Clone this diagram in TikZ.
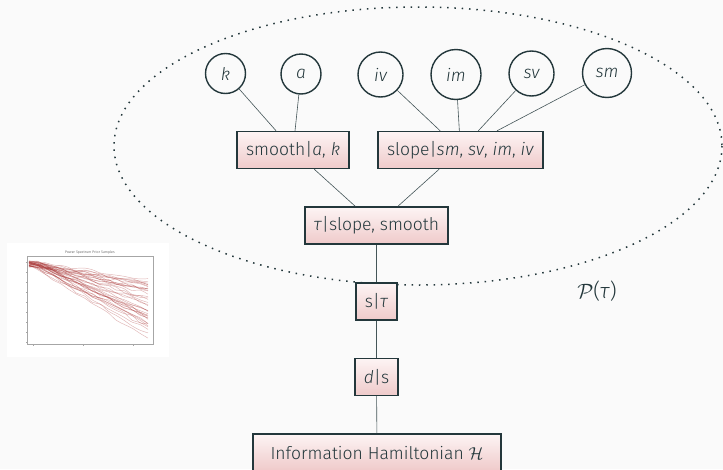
\documentclass[tikz,border=0pt]{standalone}
\usepackage{fontspec}
\setmainfont{Fira Sans}[UprightFont=* Light, ItalicFont=* Light Italic]
\definecolor{mdt}{HTML}{23373B}
\definecolor{bgc}{HTML}{FAFAFA}
\definecolor{boxtop}{HTML}{FDF4F4}
\definecolor{boxbot}{HTML}{EFCACA}
\definecolor{plred}{HTML}{A52A2A}
\begin{document}
\begin{tikzpicture}[x=1pt,y=-1pt,
  var/.style={circle, draw=mdt, line width=1.4pt, minimum size=40pt, inner sep=0pt,
    font=\fontsize{17.5}{20}\selectfont\itshape, text=mdt},
  fac/.style={rectangle, draw=mdt, line width=1.4pt, top color=boxtop, bottom color=boxbot,
    minimum height=37pt, inner xsep=9pt, font=\fontsize{17.5}{20}\selectfont, text=mdt},
  edge/.style={draw=mdt!85, line width=0.6pt},
  dotline/.style={draw=mdt, line width=1.5pt, dash pattern=on 1.5pt off 5.8pt},
  plotline/.style={draw=plred, opacity=0.35, line width=0.45pt}]
\fill[bgc] (0,0) rectangle (723,469);
\useasboundingbox (0,0) rectangle (723,469);

% plot thumbnail
\fill[white] (7,243) rectangle (169,357);
\draw[gray!70, line width=0.4pt] (27,256) rectangle (153,344);
\node[font=\fontsize{3.6}{4}\selectfont, text=black!80] (ptitle) at (90,252.5) {Power Spectrum Prior Samples};
\foreach \ty in {262,272,282,292,302,312,322,332,342}{
  \draw[gray!70, line width=0.3pt] (27,\ty) -- (25.5,\ty);
}
\foreach \tx in {33,83,133}{
  \draw[gray!70, line width=0.3pt] (\tx,344) -- (\tx,345.5);
}
\pgfmathsetseed{11}
\begin{scope}
\clip (28,257) rectangle (152,343);
\foreach \i in {1,...,36}{
  \pgfmathsetmacro\sl{0.15+0.46*rnd}
  \pgfmathsetmacro\yz{261+6*rnd}
  \draw[plotline] plot[smooth, samples=16, domain=29:148] (\x, {\yz + \sl*max(0,\x-34) + 1.8*rand});
}
\draw[plotline] plot[smooth, samples=16, domain=29:148] (\x, {266 + 0.63*max(0,\x-32) + 1.2*rand});
\end{scope}

% ellipse
\draw[dotline] (418,146) ellipse [x radius=304, y radius=139];
\node[font=\fontsize{21}{24}\selectfont, text=mdt] (ptau) at (597,291) {$\mathcal{P}$(\textit{τ})};

% variables
\node[var] (k) at (225.5,73.5) {k};
\node[var] (a) at (301,74) {a};
\node[var, minimum size=45pt] (iv) at (380.5,74.5) {iv};
\node[var, minimum size=50pt] (im) at (456,74.5) {im};
\node[var, minimum size=45pt] (sv) at (531.5,73.5) {sv};
\node[var, minimum size=49pt] (sm) at (607,73) {sm};

% factors
\node[fac] (smooth) at (293,150) {smooth|\textit{a}, \textit{k}};
\node[fac] (slope) at (460.5,150) {slope|\textit{sm}, \textit{sv}, \textit{im}, \textit{iv}};
\node[fac] (tau) at (376.5,225.5) {\textit{τ}|slope, smooth};
\node[fac] (s) at (376.5,301.5) {s|\textit{τ}};
\node[fac] (d) at (376.5,377) {\textit{d}|s};
\node[fac, minimum width=248pt] (ham) at (377,452.5) {Information Hamiltonian $\mathcal{H}$};

% edges
\draw[edge] (k) -- (smooth);
\draw[edge] (a) -- (smooth);
\draw[edge] (iv) -- (slope);
\draw[edge] (im) -- (slope);
\draw[edge] (sv) -- (slope);
\draw[edge] (sm) -- (slope);
\draw[edge] (smooth) -- (tau);
\draw[edge] (slope) -- (tau);
\draw[edge] (tau) -- (s);
\draw[edge] (s) -- (d);
\draw[edge] (d) -- (ham);
\end{tikzpicture}
\end{document}
